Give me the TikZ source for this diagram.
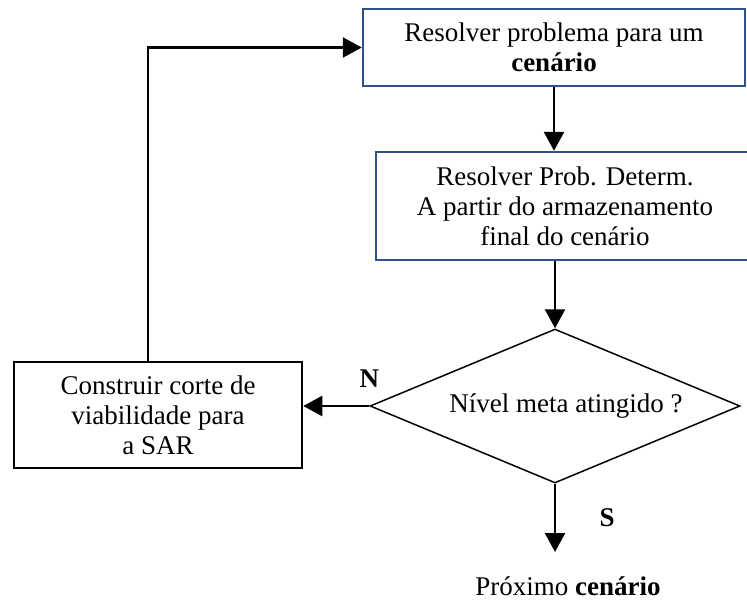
\documentclass[tikz,border=0pt]{standalone}
\usepackage{fontspec}
\setmainfont{Liberation Serif}
\usepackage{tikz}
\usetikzlibrary{arrows.meta, positioning, shapes.geometric, calc}
\definecolor{boxblue}{RGB}{47,82,143}

\begin{document}
\begin{tikzpicture}[
  x=1pt, y=-1pt,
  font=\fontsize{27}{30}\selectfont,
  process/.style={rectangle, draw=boxblue, line width=2.5pt, align=center,
    inner sep=0pt},
  cutstep/.style={rectangle, draw, line width=2.5pt, align=center,
    inner sep=0pt, minimum width=288pt, minimum height=106pt},
  decision/.style={diamond, draw, line width=1.5pt, inner sep=0pt, aspect=2.4,
    minimum width=370pt, minimum height=154pt},
  arrow/.style={-{Triangle[length=19pt, width=20pt]}, line width=2.5pt}
]
  \useasboundingbox (0,0) rectangle (747,606);

  \node[process, minimum width=382pt, minimum height=77pt] (solve) at (554,47.5)
    {Resolver problema para um\\ \textbf{cenário}};
  \node[process, minimum width=378pt, minimum height=108pt] (determ) at (565,206)
    {Resolver Prob. Determ.\\ A partir do armazenamento\\ final do cenário};
  \node[decision] (goal) at (555,406) {\hspace*{22pt}Nível meta atingido ?};
  \node[cutstep] (cut) at (158,415) {Construir corte de\\ viabilidade para\\ a SAR};
  \node (next) at (568,586) {Próximo \textbf{cenário}};
  \coordinate (yes) at (555,552);

  \draw[arrow] (solve) -- (solve |- determ.north);
  \draw[arrow] (goal |- determ.south) -- (goal.north);
  \draw[arrow] (goal.west) -- node[pos=0, above=14pt] {\textbf{N}} (goal.west -| cut.east);
  \draw[arrow] (goal.south) -- node[right=40pt] {\textbf{S}} (yes);
  \draw[arrow] ([xshift=-10pt]cut.north) |- (solve.west);
\end{tikzpicture}
\end{document}
